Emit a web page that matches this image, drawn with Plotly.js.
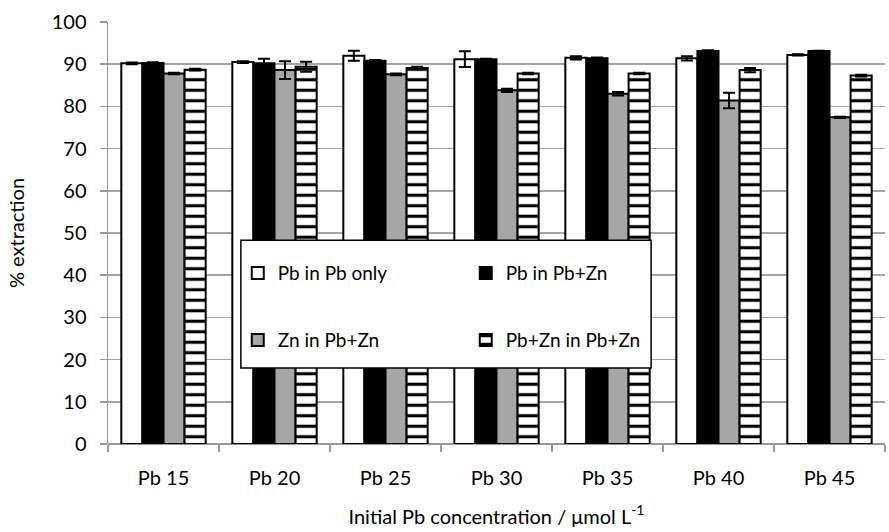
<!DOCTYPE html>
<html><head><meta charset="utf-8">
<script src="https://cdn.plot.ly/plotly-3.0.1.min.js"></script>
<style>html,body{margin:0;padding:0;background:#fff}#chart{width:889px;height:532px}</style>
</head><body><div id="chart"></div>
<script>
var categories = ["Pb 15","Pb 20","Pb 25","Pb 30","Pb 35","Pb 40","Pb 45"];
var seriesNames = ["Pb in Pb only","Pb in Pb+Zn","Zn in Pb+Zn","Pb+Zn in Pb+Zn"];
var pbOnly = [90.2, 90.5, 92.0, 91.2, 91.5, 91.4, 92.2];
var pbOnlyErr = [0.2, 0.2, 1.2, 1.85, 0.4, 0.5, 0.15];
var pbInPbZn = [90.3, 90.2, 90.8, 91.2, 91.4, 93.1, 93.1];
var pbInPbZnErr = [0.15, 1.1, 0.2, 0.1, 0.2, 0.2, 0.1];
var znInPbZn = [87.8, 88.6, 87.6, 83.8, 83.0, 81.4, 77.4];
var znInPbZnErr = [0.2, 2.1, 0.2, 0.4, 0.4, 1.85, 0.15];
var pbZnInPbZn = [88.7, 89.4, 89.1, 87.8, 87.8, 88.6, 87.3];
var pbZnInPbZnErr = [0.2, 1.2, 0.3, 0.2, 0.2, 0.5, 0.2];
var yTicks = [0,10,20,30,40,50,60,70,80,90,100];

var FONT = "Lato, 'Open Sans', sans-serif";
function eb(arr){return {type:'data', array:arr, visible:true, color:'#000', thickness:2, width:6};}
var line = {color:'#000', width:2};
var traces = [
 {type:'bar', name:seriesNames[0], x:categories, y:pbOnly, error_y:eb(pbOnlyErr), marker:{color:'#fff', line:line}, legend:'legend'},
 {type:'bar', name:seriesNames[1], x:categories, y:pbInPbZn, error_y:eb(pbInPbZnErr), marker:{color:'#000', line:line}, legend:'legend'},
 {type:'bar', name:seriesNames[2], x:categories, y:znInPbZn, error_y:eb(znInPbZnErr), marker:{color:'#a6a6a6', line:line}, legend:'legend2'},
 {type:'bar', name:seriesNames[3], x:categories, y:pbZnInPbZn, error_y:eb(pbZnInPbZnErr), marker:{color:'#fff', line:line, pattern:{shape:'-', fgcolor:'#000', bgcolor:'#fff', size:10.5, solidity:0.3}}, legend:'legend2'}
];
var legBase = {orientation:'h', xanchor:'left', yanchor:'middle', bgcolor:'rgba(0,0,0,0)', borderwidth:0, font:{family:FONT, size:19, color:'#000'}, entrywidth:183, entrywidthmode:'pixels', itemclick:false};
var layout = {
 width:889, height:532,
 margin:{l:108, r:4, t:22, b:88},
 paper_bgcolor:'#fff', plot_bgcolor:'#fff',
 font:{family:FONT, size:20, color:'#000'},
 barmode:'group', bargap:0.24, bargroupgap:0,
 showlegend:true,
 legend:Object.assign({}, legBase, {x:0.167, y:0.405}),
 legend2:Object.assign({}, legBase, {x:0.167, y:0.246}),
 xaxis:{type:'category', range:[-0.5, 6.5], tickson:'boundaries', ticks:'outside', ticklen:7, tickcolor:'#999', tickwidth:1.5,
   ticklabelstandoff:20,
   showline:false, showgrid:false, zeroline:false, tickfont:{family:FONT, size:20},
   title:{text:'Initial Pb concentration / μmol L<sup>-1</sup>', font:{family:FONT, size:20}, standoff:21}},
 yaxis:{range:[0,100], tickvals:yTicks, ticks:'outside', ticklen:7, tickcolor:'#999', tickwidth:1.5,
   ticklabelstandoff:9,
   showline:true, linecolor:'#999', linewidth:1.5, showgrid:true, gridcolor:'#a6a6a6', gridwidth:1.5,
   zeroline:true, zerolinecolor:'#999', zerolinewidth:1.5, tickfont:{family:FONT, size:20},
   title:{text:'% extraction', font:{family:FONT, size:20}, standoff:21}},
 shapes:[{type:'rect', xref:'paper', yref:'paper', x0:0.171, x1:0.699, y0:0.18, y1:0.483, layer:'above', fillcolor:'#fff', line:{color:'#000', width:1.5}}]
};
Plotly.newPlot('chart', traces, layout, {displayModeBar:false, staticPlot:true});
</script></body></html>
